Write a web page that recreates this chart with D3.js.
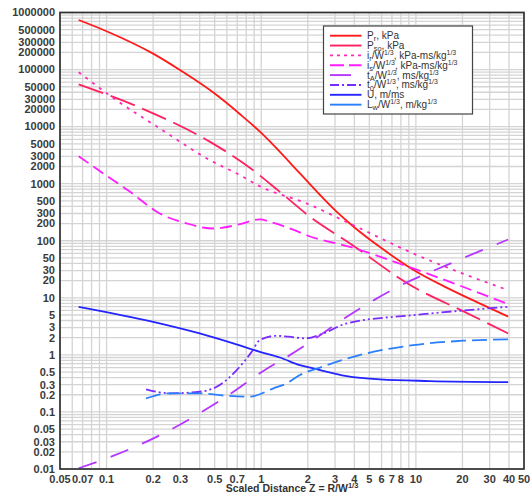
<!DOCTYPE html>
<html><head><meta charset="utf-8">
<script src="https://cdn.jsdelivr.net/npm/d3@7"></script>
<style>
html,body{margin:0;padding:0;background:#fff;}
svg{display:block;font-family:"Liberation Sans",Arial,sans-serif;}
</style></head>
<body><svg id="c" width="530" height="493"></svg>
<script>
// ---- data ----
const xTicks = [0.05,0.07,0.1,0.2,0.3,0.5,0.7,1,2,3,4,5,6,7,8,10,20,30,40,50];
const yTicks = [1000000,500000,300000,200000,100000,50000,30000,20000,10000,5000,3000,2000,1000,500,300,200,100,50,30,20,10,5,3,2,1,0.5,0.3,0.2,0.1,0.05,0.03,0.02,0.01];

const prZ  = [0.066,0.1,0.2,0.3,0.5,0.73,1.0,1.2,1.78,2.07,3.07,3.94,5.86,9.6,15.8,25,39.5];
const prV  = [740000,470000,190000,97000,38000,16500,7755,4739,1511,975,324,178,77.4,31.1,15.1,8.32,4.7];

const psoZ = [0.066,0.164,0.467,0.785,1.32,2.07,3.75,9.6,20,39.5];
const psoV = [55000,21600,5400,2195,719,262,89.7,15.6,5.9,2.38];

const irZ  = [0.066,0.116,0.221,0.467,0.73,0.98,1.97,3.94,9.6,39.5];
const irV  = [90000,29000,9270,2575,1409,900,450,187,60,13.6];

const isZ  = [0.066,0.0954,0.142,0.221,0.33,0.49,0.73,0.97,1.2,1.78,1.97,3.75,9.6,39.5];
const isV  = [3030,1508,719,300,201,164,195,236,205,140,125,78,32.7,7.76];

const taZ  = [0.066,0.111,0.245,0.54,1.14,1.53,4.35,7.3,15.8,39.5];
const taV  = [0.0103,0.0171,0.045,0.157,0.62,0.99,6.5,14.6,37.4,105];

const t0Z  = [0.18,0.257,0.4,0.515,0.694,0.867,0.98,1.26,1.5,1.92,2.52,3.57,9.6,19.3,39.5];
const t0V  = [0.249,0.212,0.226,0.276,0.54,1.13,1.82,2.16,2.08,1.95,2.38,3.56,4.98,5.93,6.96];

const uZ   = [0.066,0.2,0.4,0.66,0.98,1.32,1.78,2.17,3.57,5.86,12.3,39.5];
const uV   = [6.96,3.8,2.38,1.59,1.13,0.9,0.66,0.58,0.425,0.372,0.348,0.334];

const lwZ  = [0.18,0.257,0.4,0.598,0.845,1.2,1.46,1.78,2.4,4.57,9.6,20.2,39.5];
const lwV  = [0.173,0.212,0.212,0.192,0.185,0.259,0.317,0.443,0.60,1.03,1.48,1.77,1.87];

// ---- series table ----
const series = [
  {z:prZ, v:prV, color:"#ff1a1a", dash:null,           ldash:null},
  {z:psoZ,v:psoV,color:"#ff2060", dash:"26,8",         ldash:null},
  {z:irZ, v:irV, color:"#ff28b8", dash:"3,5.5",        ldash:"3,4"},
  {z:isZ, v:isV, color:"#ff1cff", dash:"12,6",         ldash:"14,5"},
  {z:taZ, v:taV, color:"#b436ff", dash:"19,15",        ldash:"21,20"},
  {z:t0Z, v:t0V, color:"#7a2cff", dash:"10,3,2,3,2,3", ldash:"9,3,2,3"},
  {z:uZ,  v:uV,  color:"#2424ff", dash:null,           ldash:null},
  {z:lwZ, v:lwV, color:"#2a7fff", dash:"15,6",         ldash:null}
];

const svg = d3.select("#c");
const L=60, R=524, T=12.5, B=469;
const x = d3.scaleLog().domain([0.05,50]).range([L,R]);
const y = d3.scaleLog().domain([0.01,1000000]).range([B,T]);

// grid
const g = svg.append("g");
const xGrid=[], yGrid=[];
for(let e=-2;e<=1;e++) for(let m=1;m<10;m++){const v=m*Math.pow(10,e); if(v>=0.05-1e-9&&v<=50+1e-9) xGrid.push(v);}
for(let e=-2;e<=6;e++) for(let m=1;m<10;m++){const v=m*Math.pow(10,e); if(v>=0.01-1e-12&&v<=1000000+1e-6) yGrid.push(v);}
g.selectAll(".xg").data(xGrid).join("line")
  .attr("x1",d=>x(d)).attr("x2",d=>x(d)).attr("y1",T).attr("y2",B)
  .attr("stroke","#d4d4d4").attr("stroke-width",1.3);
g.selectAll(".yg").data(yGrid).join("line")
  .attr("y1",d=>y(d)).attr("y2",d=>y(d)).attr("x1",L).attr("x2",R)
  .attr("stroke","#d4d4d4").attr("stroke-width",1.3);

// curves
const line = d3.line().x(d=>x(d[0])).y(d=>y(d[1])).curve(d3.curveMonotoneX);
series.forEach(s=>{
  const pts = s.z.map((z,i)=>[z,s.v[i]]);
  svg.append("path").attr("d",line(pts)).attr("fill","none")
    .attr("stroke",s.color).attr("stroke-width",1.8)
    .attr("stroke-dasharray",s.dash);
});

// frame
svg.append("rect").attr("x",L).attr("y",T).attr("width",R-L).attr("height",B-T)
  .attr("fill","none").attr("stroke","#333").attr("stroke-width",1.7);

// axes labels
const fmt = d=>String(d);
svg.append("g").selectAll("text").data(yTicks).join("text")
  .attr("x",55).attr("y",d=>y(d)).attr("dy","0.35em")
  .attr("text-anchor","end").attr("font-size",11).attr("font-weight","bold")
  .attr("fill","#3a3a3a").text(fmt);
svg.append("g").selectAll("text").data(xTicks).join("text")
  .attr("x",d=>x(d)).attr("y",483)
  .attr("text-anchor","middle").attr("font-size",11).attr("font-weight","bold")
  .attr("fill","#3a3a3a").text(fmt);

const title = svg.append("text").attr("x",292).attr("y",492).attr("text-anchor","middle")
  .attr("font-size",10.5).attr("font-weight","bold").attr("fill","#333");
title.append("tspan").text("Scaled Distance Z = R/W");
title.append("tspan").attr("dy",-4).attr("font-size",7.5).text("1/3");

// legend
const legend = [
  {parts:[["P"],["r","sub"],[", kPa"]]},
  {parts:[["P"],["so","sub"],[", kPa"]]},
  {parts:[["i"],["r","sub"],["/W"],["1/3","sup"],[", kPa-ms/kg"],["1/3","sup"]]},
  {parts:[["i"],["s","sub"],["/W"],["1/3","sup"],[", kPa-ms/kg"],["1/3","sup"]]},
  {parts:[["t"],["A","sub"],["/W"],["1/3","sup"],[", ms/kg"],["1/3","sup"]]},
  {parts:[["t"],["0","sub"],["/W"],["1/3","sup"],[", ms/kg"],["1/3","sup"]]},
  {parts:[["U, m/ms"]]},
  {parts:[["L"],["w","sub"],["/W"],["1/3","sup"],[", m/kg"],["1/3","sup"]]}
];
const lg = svg.append("g");
lg.append("rect").attr("x",323.5).attr("y",26).attr("width",149).attr("height",88)
  .attr("fill","#fff").attr("stroke","#444").attr("stroke-width",1.2);
legend.forEach((d,i)=>{
  const yy = 35.7 + i*9.85;
  const s = series[i];
  lg.append("line").attr("x1",330).attr("x2",361.5).attr("y1",yy).attr("y2",yy)
    .attr("stroke",s.color).attr("stroke-width",1.9)
    .attr("stroke-dasharray", s.ldash);
  const t = lg.append("text").attr("x",367).attr("y",yy+3.5).attr("font-size",10).attr("fill","#333");
  let shift=0;
  d.parts.forEach(p=>{
    const sp = t.append("tspan").text(p[0]);
    if(p[1]==="sub"){ sp.attr("font-size",7.5).attr("dy",2.2-shift); shift=2.2; }
    else if(p[1]==="sup"){ sp.attr("font-size",7).attr("dy",-4-shift); shift=-4; }
    else { if(shift!==0){ sp.attr("dy",-shift); shift=0; } }
  });
});
</script></body></html>
